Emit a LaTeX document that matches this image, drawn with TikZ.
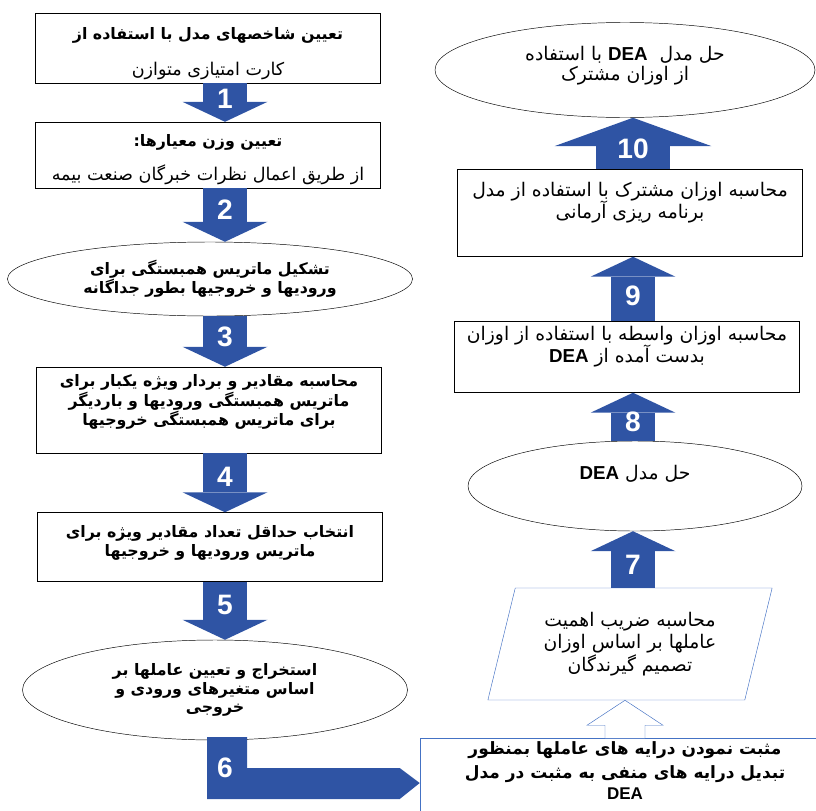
\documentclass[tikz,border=0pt]{standalone}
\usepackage{fontspec}
\setmainfont{Liberation Sans}
\newfontfamily\fafont[Script=Arabic]{DejaVu Sans}
\TeXXeTstate=1
\usetikzlibrary{shapes.geometric,arrows.meta,calc}
\definecolor{flowblue}{RGB}{47,84,164}
\definecolor{edgeblue}{RGB}{68,114,196}
\newcommand{\fa}[1]{{\fafont\beginR #1\endR}}
\newcommand{\dea}{\beginL{\normalfont\bfseries DEA}\endL}
\newcommand{\lift}[1]{\rule[-#1]{0pt}{#1}}
\newcommand{\drop}[1]{\rule{0pt}{#1}}
\tikzset{
  stepbox/.style={draw, rectangle, minimum width=10.35cm, align=center, inner sep=3pt, font=\fontsize{16}{19}\selectfont},
  stepoval/.style={draw, ellipse, align=center, inner sep=0pt, font=\fontsize{16}{19}\selectfont},
  heavy/.style={font=\fontsize{13.5}{15.5}\selectfont\bfseries},
  flow/.style={draw=flowblue, line width=1.32cm, -{Triangle[width=2.55cm,length=0.6cm,line width=0pt]}},
  stepno/.style={text=white, font=\fontsize{24}{24}\selectfont\bfseries},
}
\begin{document}
\begin{tikzpicture}[x=0.03cm, y=-0.03cm]
\useasboundingbox (0,0) rectangle (816,810);
\clip (0,0) rectangle (816,810);
\coordinate (lx) at (225,0);
\coordinate (rx) at (633,0);
\node[stepbox, minimum height=2.04cm] (st1) at (208,48) {\drop{0.7cm}\fa{\fontsize{13.5}{16}\selectfont\bfseries تعیین شاخصهای مدل با استفاده از}\\[0.4cm]\fa{\fontsize{15}{17}\selectfont کارت امتیازی متوازن}};
\node[stepbox, minimum height=1.95cm] (st2) at (208,155) {\drop{0.62cm}\fa{\fontsize{13.5}{16}\selectfont\bfseries تعیین وزن معیارها:}\\[0.35cm]\fa{\fontsize{15}{17}\selectfont از طریق اعمال نظرات خبرگان صنعت بیمه}};
\node[stepoval, heavy, minimum width=12.15cm, minimum height=2.22cm] (st3) at (210,279) {\fa{تشکیل ماتریس همبستگی برای}\\\fa{ورودیها و خروجیها بطور جداگانه}};
\node[stepbox, heavy, minimum height=2.58cm] (st4) at (209,410) {\fa{محاسبه مقادیر و بردار ویژه یکبار برای}\\\fa{ماتریس همبستگی ورودیها و باردیگر}\\\fa{برای ماتریس همبستگی خروجیها}\lift{0.6cm}};
\node[stepbox, heavy, minimum height=2.07cm] (st5) at (210,547) {\fa{انتخاب حداقل تعداد مقادیر ویژه برای}\\\fa{ماتریس ورودیها و خروجیها}\lift{0.36cm}};
\node[stepoval, heavy, minimum width=11.55cm, minimum height=3cm] (st6) at (215,690) {\fa{استخراج و تعیین عاملها بر}\\\fa{اساس متغیرهای ورودی و}\\\fa{خروجی}};
\node[stepbox, draw=edgeblue, anchor=north, minimum width=12.3cm, inner sep=3pt, font=\fontsize{14.5}{18}\selectfont\bfseries] (st7) at (625,738) {\fa{مثبت نمودن درایه های عاملها بمنظور}\\[2pt]\fa{تبدیل درایه های منفی به مثبت در مدل}\\{\normalfont\bfseries DEA}\lift{2cm}};
\node[trapezium, draw=edgeblue, trapezium left angle=72, trapezium right angle=108, trapezium stretches=true, minimum width=8.55cm, minimum height=3.36cm, align=center, inner sep=0pt, font=\fontsize{16}{19}\selectfont] (st8) at (630,644) {\fa{محاسبه ضریب اهمیت}\\\fa{عاملها بر اساس اوزان}\\\fa{تصمیم گیرندگان}};
\node[stepoval, minimum width=10.02cm, minimum height=2.7cm] (st9) at (635,486) {\fa{حل مدل \dea}\lift{0.84cm}};
\node[stepbox, minimum height=2.13cm] (st10) at (627,357) {\fa{محاسبه اوزان واسطه با استفاده از اوزان}\\\fa{بدست آمده از \dea}\lift{0.75cm}};
\node[stepbox, minimum height=2.61cm] (st11) at (630,213) {\fa{محاسبه اوزان مشترک با استفاده از مدل}\\\fa{برنامه ریزی آرمانی}\lift{0.75cm}};
\node[stepoval, minimum width=11.4cm, minimum height=2.85cm, font=\fontsize{16}{16.5}\selectfont] (st12) at (625,70) {\fa{حل مدل \ \dea\ با استفاده}\\\fa{از اوزان مشترک}\lift{0.4cm}};
\draw[flow] (st1.south -| lx) -- (st2.north -| lx) node[stepno, pos=0.4]{1};
\draw[flow] (st2.south -| lx) -- (st3.north -| lx) node[stepno, pos=0.4]{2};
\draw[flow] (st3.south -| lx) -- (st4.north -| lx) node[stepno, pos=0.4]{3};
\draw[flow] (st4.south -| lx) -- (st5.north -| lx) node[stepno, pos=0.4]{4};
\draw[flow] (st5.south -| lx) -- (st6.north -| lx) node[stepno, pos=0.4]{5};
\fill[flowblue] ($(st6.south -| lx)+(-18,-3)$) |- ($(st7.north west)+(-20,61)$) -- ($(st7.north west)+(0,45)$) -- ($(st7.north west)+(-20,30)$) -| ($(st6.south -| lx)+(22,-3)$) -- cycle;
\node[stepno] (no6) at ($(st6.south -| lx)+(0,28)$) {6};
\draw[draw=edgeblue, fill=white] ($(st7.north)+(-20,0)$) -- ($(st7.north |- st8.south)+(-20,25)$) -- ($(st7.north |- st8.south)+(-38,25)$) -- (st7.north |- st8.south) -- ($(st7.north |- st8.south)+(38,25)$) -- ($(st7.north |- st8.south)+(20,25)$) -- ($(st7.north)+(20,0)$);
\draw[flow] (st8.north -| rx) -- (st9.south -| rx) node[stepno, pos=0.4]{7};
\draw[flow] (st9.north -| rx) -- (st10.south -| rx) node[stepno, pos=0.4]{8};
\draw[flow] (st10.north -| rx) -- (st11.south -| rx) node[stepno, pos=0.4]{9};
\draw[flow, line width=2.2cm, -{Triangle[width=4.7cm,length=0.85cm,line width=0pt]}] (st11.north -| rx) -- (st12.south -| rx) node[stepno, pos=0.4]{10};
\end{tikzpicture}
\end{document}
